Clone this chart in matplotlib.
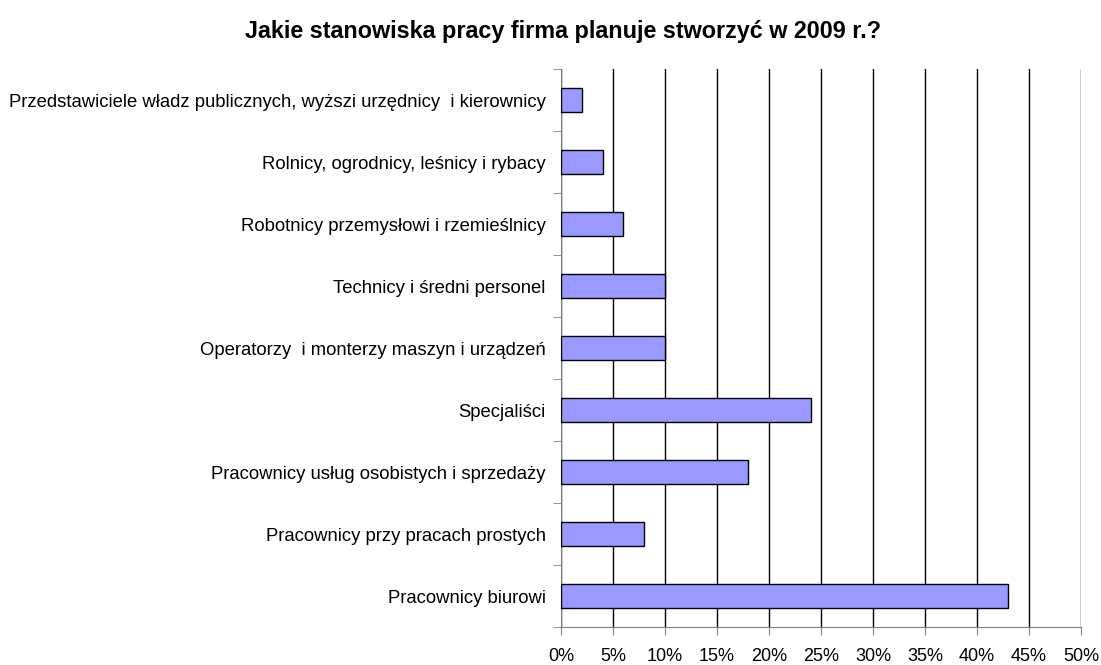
import matplotlib.pyplot as plt
from matplotlib.ticker import PercentFormatter

plt.rcParams['font.family'] = ['Liberation Sans', 'DejaVu Sans']

categories = [
    'Przedstawiciele władz publicznych, wyższi urzędnicy  i kierownicy',
    'Rolnicy, ogrodnicy, leśnicy i rybacy',
    'Robotnicy przemysłowi i rzemieślnicy',
    'Technicy i średni personel',
    'Operatorzy  i monterzy maszyn i urządzeń',
    'Specjaliści',
    'Pracownicy usług osobistych i sprzedaży',
    'Pracownicy przy pracach prostych',
    'Pracownicy biurowi',
]
values = [2, 4, 6, 10, 10, 24, 18, 8, 43]
x_ticks = list(range(0, 55, 5))

fig = plt.figure(figsize=(11.01, 6.65), dpi=100)
ax = fig.add_axes([0.5095, 0.0571, 0.4723, 0.8391])

n = len(categories)
pos = list(range(n - 1, -1, -1))
ax.barh(pos, values, height=0.4, color='#9999FF', edgecolor='black', linewidth=1, zorder=3)

ax.set_xlim(0, 50)
ax.set_ylim(-0.5, n - 0.5)
ax.set_xticks(x_ticks)
ax.xaxis.set_major_formatter(PercentFormatter(decimals=0))
ax.set_yticks(pos)
ax.set_yticklabels(categories)
# ticks between categories, labels centred
ax.set_yticks([p - 0.5 for p in range(n + 1)], minor=True)
ax.tick_params(axis='y', which='major', length=0, pad=11, labelsize=13.3)
ax.tick_params(axis='y', which='minor', length=6, color='#808080')
ax.tick_params(axis='x', length=6, color='#808080', pad=9, labelsize=13)

ax.grid(axis='x', color='black', linewidth=1, zorder=0)
for s in ['top', 'right']:
    ax.spines[s].set_visible(False)
for s in ['left', 'bottom']:
    ax.spines[s].set_color('#808080')

fig.text(0.511, 0.953, 'Jakie stanowiska pracy firma planuje stworzyć w 2009 r.?',
         ha='center', va='center', fontsize=16.8, fontweight='bold')

fig.savefig('out.png', dpi=100)
